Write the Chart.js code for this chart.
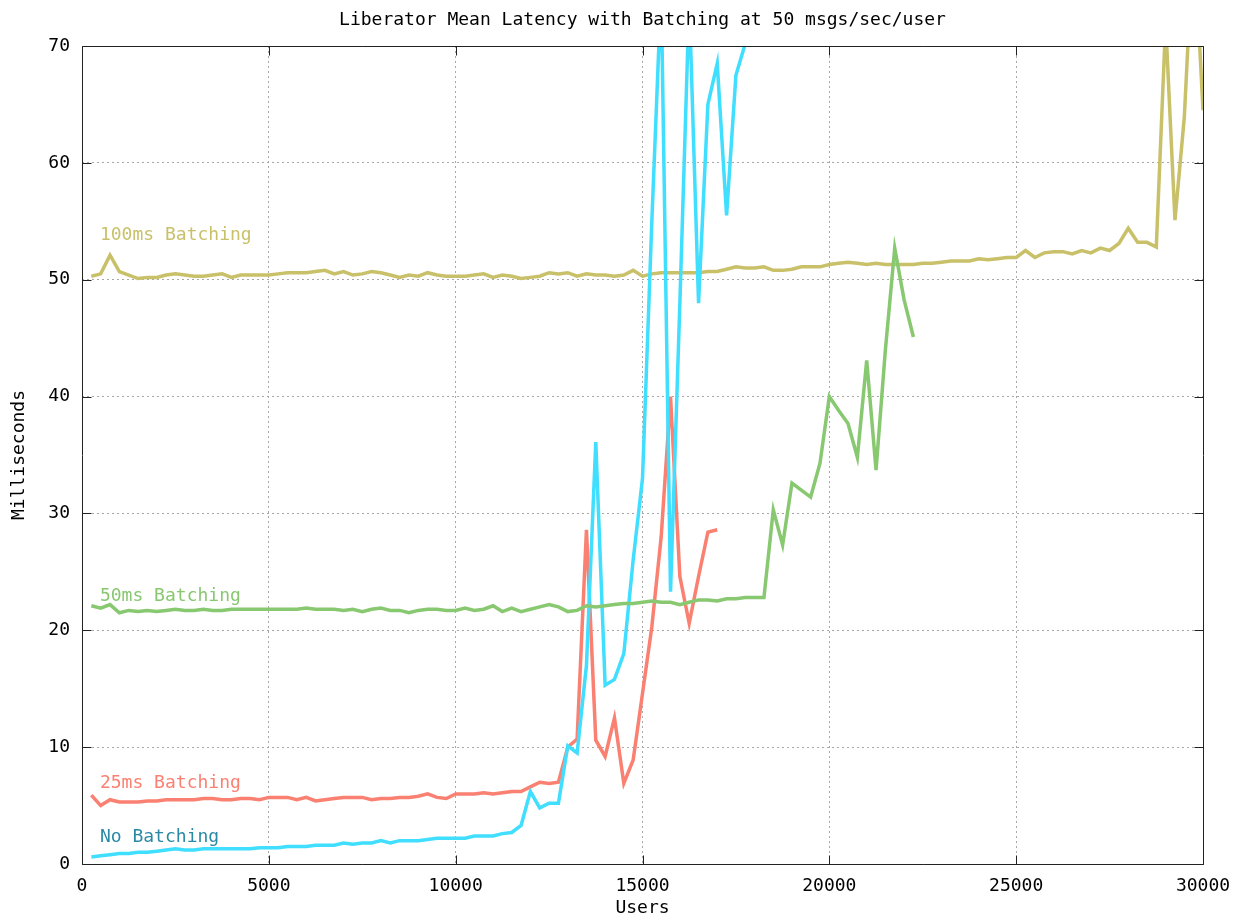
<!DOCTYPE html>
<html>
<head>
<meta charset="utf-8">
<script src="https://cdn.jsdelivr.net/npm/chart.js@4/dist/chart.umd.min.js"></script>
<style>
html,body{margin:0;padding:0;background:#fff;}
canvas{display:block;}
</style>
</head>
<body>
<canvas id="c" width="1237" height="914"></canvas>
<script>
const title = "Liberator Mean Latency with Batching at 50 msgs/sec/user";
const xTitle = "Users";
const yTitle = "Milliseconds";
const seriesNames = ["No Batching", "25ms Batching", "50ms Batching", "100ms Batching"];

const users = [250,500,750,1000,1250,1500,1750,2000,2250,2500,2750,3000,3250,3500,3750,4000,4250,4500,4750,5000,
5250,5500,5750,6000,6250,6500,6750,7000,7250,7500,7750,8000,8250,8500,8750,9000,9250,9500,9750,10000,
10250,10500,10750,11000,11250,11500,11750,12000,12250,12500,12750,13000,13250,13500,13750,14000,14250,14500,14750,15000,
15250,15500,15750,16000,16250,16500,16750,17000,17250,17500,17750,18000,18250,18500,18750,19000,19250,19500,19750,20000,
20250,20500,20750,21000,21250,21500,21750,22000,22250,22500,22750,23000,23250,23500,23750,24000,24250,24500,24750,25000,
25250,25500,25750,26000,26250,26500,26750,27000,27250,27500,27750,28000,28250,28500,28750,29000,29250,29500,29750,30000];

const noBatching = [0.6,0.7,0.8,0.9,0.9,1.0,1.0,1.1,1.2,1.3,
1.2,1.2,1.3,1.3,1.3,1.3,1.3,1.3,1.4,1.4,
1.4,1.5,1.5,1.5,1.6,1.6,1.6,1.8,1.7,1.8,
1.8,2.0,1.8,2.0,2.0,2.0,2.1,2.2,2.2,2.2,
2.2,2.4,2.4,2.4,2.6,2.7,3.3,6.2,4.8,5.2,
5.2,10.1,9.5,17.0,36.1,15.3,15.8,18.0,26.0,33.0,
55.0,75.0,23.3,48.0,74.0,48.0,65.0,68.5,55.5,67.5,
70.2,72.0];

const batch25 = [5.9,5.0,5.5,5.3,5.3,5.3,5.4,5.4,5.5,5.5,
5.5,5.5,5.6,5.6,5.5,5.5,5.6,5.6,5.5,5.7,
5.7,5.7,5.5,5.7,5.4,5.5,5.6,5.7,5.7,5.7,
5.5,5.6,5.6,5.7,5.7,5.8,6.0,5.7,5.6,6.0,
6.0,6.0,6.1,6.0,6.1,6.2,6.2,6.6,7.0,6.9,
7.0,10.0,10.7,28.6,10.6,9.2,12.5,6.9,8.9,14.6,
20.3,28.0,40.0,24.6,20.6,24.6,28.4,28.6];

const batch50 = [22.1,21.9,22.2,21.5,21.7,21.6,21.7,21.6,21.7,21.8,
21.7,21.7,21.8,21.7,21.7,21.8,21.8,21.8,21.8,21.8,
21.8,21.8,21.8,21.9,21.8,21.8,21.8,21.7,21.8,21.6,
21.8,21.9,21.7,21.7,21.5,21.7,21.8,21.8,21.7,21.7,
21.9,21.7,21.8,22.1,21.6,21.9,21.6,21.8,22.0,22.2,
22.0,21.6,21.7,22.1,22.0,22.1,22.2,22.3,22.3,22.4,
22.5,22.4,22.4,22.2,22.4,22.6,22.6,22.5,22.7,22.7,
22.8,22.8,22.8,30.3,27.3,32.6,32.0,31.4,34.3,40.0,
38.8,37.7,34.8,43.1,33.7,44.0,52.7,48.3,45.1];

const batch100 = [50.3,50.5,52.1,50.7,50.4,50.1,50.2,50.2,50.4,50.5,
50.4,50.3,50.3,50.4,50.5,50.2,50.4,50.4,50.4,50.4,
50.5,50.6,50.6,50.6,50.7,50.8,50.5,50.7,50.4,50.5,
50.7,50.6,50.4,50.2,50.4,50.3,50.6,50.4,50.3,50.3,
50.3,50.4,50.5,50.2,50.4,50.3,50.1,50.2,50.3,50.6,
50.5,50.6,50.3,50.5,50.4,50.4,50.3,50.4,50.8,50.3,
50.5,50.6,50.6,50.6,50.6,50.6,50.7,50.7,50.9,51.1,
51.0,51.0,51.1,50.8,50.8,50.9,51.1,51.1,51.1,51.3,
51.4,51.5,51.4,51.3,51.4,51.3,51.3,51.3,51.3,51.4,
51.4,51.5,51.6,51.6,51.6,51.8,51.7,51.8,51.9,51.9,
52.5,51.9,52.3,52.4,52.4,52.2,52.5,52.3,52.7,52.5,
53.1,54.4,53.2,53.2,52.8,72.0,55.1,63.9,80.0,64.5];

const xTicks = [0,5000,10000,15000,20000,25000,30000];
const yTicks = [0,10,20,30,40,50,60,70];

// label anchor positions in data coordinates
const labelX = [480, 480, 480, 480];
const labelY = [2.3, 6.9, 22.9, 53.8];

const lineColors = ["#40DEFF", "#FA8072", "#88C870", "#C9C06A"];
const textColors = ["#2A8AA5", "#FA8072", "#88C870", "#C9C06A"];

function pts(vals){ return vals.map((v,i)=>({x:users[i], y:v})); }

const FONT = "'DejaVu Sans Mono', 'Liberation Mono', monospace";

const frame = {
  id:'frame',
  afterDatasetsDraw(chart){
    const {ctx, chartArea:a, scales:{x,y}} = chart;
    ctx.save();
    ctx.strokeStyle = '#222';
    ctx.lineWidth = 1;
    ctx.beginPath();
    const L = Math.round(a.left)+0.5, R = Math.round(a.right)+0.5, T = Math.round(a.top)+0.5, B = Math.round(a.bottom)+0.5;
    ctx.rect(L, T, R-L, B-T);
    xTicks.forEach(v=>{
      const p = Math.round(x.getPixelForValue(v))+0.5;
      ctx.moveTo(p,B); ctx.lineTo(p,B-9);
      ctx.moveTo(p,T); ctx.lineTo(p,T+9);
    });
    yTicks.forEach(v=>{
      const p = Math.round(y.getPixelForValue(v))+0.5;
      ctx.moveTo(L,p); ctx.lineTo(L+9,p);
      ctx.moveTo(R,p); ctx.lineTo(R-9,p);
    });
    ctx.stroke();
    ctx.restore();
  },
  afterDraw(chart){
    const {ctx, chartArea:a, scales:{x,y}} = chart;
    ctx.save();
    ctx.font = "18px " + FONT;
    ctx.fillStyle = '#000';
    ctx.textAlign = 'center';
    ctx.textBaseline = 'middle';
    ctx.fillText(title, (a.left+a.right)/2, 20);
    ctx.fillText(xTitle, (a.left+a.right)/2, 908);
    ctx.save();
    ctx.translate(19, (a.top+a.bottom)/2);
    ctx.rotate(-Math.PI/2);
    ctx.fillText(yTitle, 0, 0);
    ctx.restore();
    ctx.textAlign = 'left';
    seriesNames.forEach((n,i)=>{
      ctx.fillStyle = textColors[i];
      ctx.fillText(n, x.getPixelForValue(labelX[i]), y.getPixelForValue(labelY[i]));
    });
    ctx.restore();
  }
};

const ds = (label, vals, i) => ({
  label, data: pts(vals), borderColor: lineColors[i], backgroundColor: lineColors[i],
  borderWidth: 3.5, pointRadius: 0, tension: 0, fill: false, clip: 0,
  borderJoinStyle: 'miter'
});

new Chart(document.getElementById('c'), {
  type: 'line',
  data: {
    datasets: [
      ds(seriesNames[2], batch50, 2),
      ds(seriesNames[0], noBatching, 0),
      ds(seriesNames[1], batch25, 1),
      ds(seriesNames[3], batch100, 3)
    ]
  },
  options: {
    responsive: false,
    animation: false,
    devicePixelRatio: 1,
    layout: { padding: { left: 0, right: 34, top: 46, bottom: 0 } },
    plugins: { legend: {display:false}, title: {display:false}, tooltip: {enabled:false} },
    scales: {
      x: {
        type: 'linear', min: 0, max: 30000,
        afterBuildTicks: s => { s.ticks = xTicks.map(v=>({value:v})); },
        afterFit: s => { s.height = 50; s.paddingLeft = 0; s.paddingRight = 0; },
        ticks: { color:'#000', font:{family:FONT, size:18}, padding: 12, maxRotation:0, autoSkip:false,
                 callback: v => String(v) },
        grid: { color:'#a8a8a8', lineWidth:1, drawTicks:false },
        border: { display:false, dash:[2,3] }
      },
      y: {
        type: 'linear', min: 0, max: 70,
        afterBuildTicks: s => { s.ticks = yTicks.map(v=>({value:v})); },
        afterFit: s => { s.width = 82; s.paddingTop = 0; s.paddingBottom = 0; },
        ticks: { color:'#000', font:{family:FONT, size:18}, padding: 12, callback: v => String(v) },
        grid: { color:'#a8a8a8', lineWidth:1, drawTicks:false },
        border: { display:false, dash:[2,3] }
      }
    }
  },
  plugins: [frame]
});
</script>
</body>
</html>
